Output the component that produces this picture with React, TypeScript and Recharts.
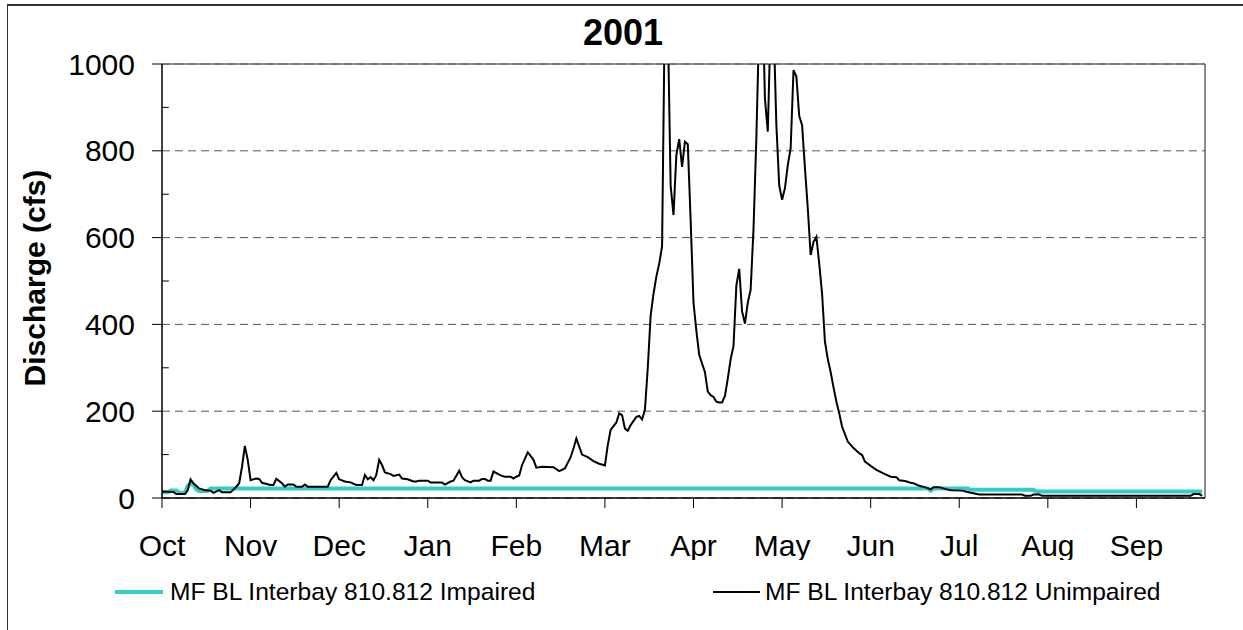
import React from 'react';
import { LineChart, Line, XAxis, YAxis, CartesianGrid, ReferenceLine } from 'recharts';

// water year 2001, day 0 = Oct 1
const MONTHS = ['Oct', 'Nov', 'Dec', 'Jan', 'Feb', 'Mar', 'Apr', 'May', 'Jun', 'Jul', 'Aug', 'Sep'];
const MONTH_TICKS = [0, 31, 62, 93, 124, 155, 186, 217, 248, 279, 310, 341];
const Y_TICKS = [0, 200, 400, 600, 800, 1000];
const Y_MINOR = [100, 300, 500, 700, 900];

const UNIMP_DAYS = [
  0, 4, 5, 8, 9, 10, 11, 13, 15, 17, 18, 20, 21, 24, 26, 27, 28, 29, 30, 31,
  33, 34, 35, 38, 39, 40, 42, 43, 44, 46, 47, 49, 50, 51, 58, 59, 61, 62, 64, 66,
  68, 70, 71, 72, 73, 74, 75, 76, 77, 78, 80, 81, 83, 84, 86, 88, 89, 90, 93, 94,
  98, 99, 101, 102, 104, 105, 106, 108, 109, 111, 112, 113, 114, 115, 116, 118, 119, 120, 122, 123,
  124, 125, 126, 128, 129, 130, 131, 133, 137, 139, 141, 143, 144, 145, 147, 149, 151, 153, 155, 156,
  157, 159, 160, 161, 162, 163, 164, 166, 167, 168, 169, 170, 171, 172, 173, 174, 175, 176, 177, 178,
  179, 180, 181, 182, 183, 184, 185, 186, 187, 188, 189, 190, 191, 192, 193, 194, 195, 196, 197, 198,
  199, 200, 201, 202, 203, 204, 205, 206, 207, 208, 209, 210, 211, 212, 213, 214, 215, 216, 217, 218,
  219, 220, 221, 222, 223, 224, 225, 226, 227, 228, 229, 230, 231, 232, 233, 234, 235, 236, 237, 238,
  240, 242, 244, 245, 246, 248, 250, 253, 255, 257, 258, 260, 262, 263, 265, 267, 269, 270, 272, 274,
  276, 280, 283, 286, 301, 302, 304, 305, 307, 308, 360, 361, 363, 364,
];
const UNIMP_CFS = [
  15, 14, 9, 9, 18, 43, 34, 22, 18, 17, 12, 18, 13, 13, 26, 34, 72, 120, 88, 41,
  45, 44, 35, 30, 30, 44, 34, 26, 31, 31, 26, 26, 31, 26, 26, 41, 58, 43, 38, 36,
  30, 30, 53, 43, 48, 41, 53, 88, 76, 59, 55, 51, 54, 45, 43, 38, 38, 40, 40, 36,
  36, 31, 38, 40, 63, 48, 41, 36, 40, 40, 44, 44, 40, 40, 61, 54, 51, 49, 49, 45,
  49, 52, 76, 105, 97, 88, 70, 72, 71, 62, 68, 94, 114, 137, 100, 94, 85, 79, 75, 122,
  157, 174, 195, 191, 160, 155, 168, 187, 189, 181, 203, 300, 420, 470, 510, 540, 580, 1150, 1100, 720,
  652, 790, 827, 763, 821, 815, 640, 450, 385, 330, 310, 290, 245, 237, 233, 222, 220, 220, 235, 275,
  320, 350, 490, 528, 430, 402, 450, 480, 620, 830, 1100, 1200, 920, 844, 1100, 1100, 860, 720, 687, 714,
  767, 806, 986, 971, 880, 859, 760, 667, 560, 590, 602, 540, 470, 360, 320, 290, 255, 222, 195, 164,
  130, 115, 103, 99, 84, 74, 65, 55, 49, 48, 41, 39, 35, 34, 28, 25, 20, 25, 25, 21,
  18, 17, 12, 8, 8, 5, 5, 8, 8, 5, 5, 9, 9, 5,
];

const IMP_DAYS = [0, 2, 3, 5, 6, 8, 9, 10, 11, 12, 13, 16, 17, 268, 269, 270, 282, 283, 305, 306, 364];
const IMP_CFS = [13, 13, 17, 17, 12, 12, 28, 33, 30, 20, 16, 16, 22, 22, 17, 22, 22, 19, 19, 15, 15];

const unimpaired = UNIMP_DAYS.map((day, i) => ({ day, cfs: UNIMP_CFS[i] }));
const impaired = IMP_DAYS.map((day, i) => ({ day, cfs: IMP_CFS[i] }));

const FONT = '"Liberation Sans", Arial, Helvetica, sans-serif';
const CYAN = '#33CCCC';

const MonthTick = (props: any) => {
  const { x, y, payload } = props;
  const idx = MONTH_TICKS.indexOf(payload.value);
  const id = `mclip-${idx}`;
  return (
    <g>
      <defs>
        <clipPath id={id}>
          <rect x={x - 60} y={y} width={120} height={50} />
        </clipPath>
      </defs>
      <text
        x={x}
        y={y + 46}
        textAnchor="middle"
        fontSize={30}
        fontFamily={FONT}
        fill="#000"
        clipPath={`url(#${id})`}
      >
        {MONTHS[idx]}
      </text>
    </g>
  );
};

export default function App() {
  return (
    <div style={styles.page}>
      <style>{'body{margin:0;}'}</style>
      <div style={styles.frame} />
      <LineChart
        width={1243}
        height={630}
        margin={{ top: 64, right: 38, bottom: 0, left: 0 }}
        style={{ position: 'absolute', left: 0, top: 0 }}
      >
        <CartesianGrid vertical={false} stroke="#555" strokeDasharray="8 5" />
        <XAxis
          dataKey="day"
          type="number"
          domain={[0, 365]}
          ticks={MONTH_TICKS}
          interval={0}
          height={132}
          tickSize={10}
          tickMargin={2}
          axisLine={{ stroke: '#000', strokeWidth: 1.5 }}
          tickLine={{ stroke: '#000' }}
          tick={<MonthTick />}
          allowDataOverflow
        />
        <YAxis
          type="number"
          domain={[0, 1000]}
          ticks={Y_TICKS}
          interval={0}
          width={162}
          tickSize={10}
          tickMargin={17}
          allowDataOverflow
          axisLine={{ stroke: '#000', strokeWidth: 1.5 }}
          tickLine={{ stroke: '#000' }}
          tick={{ fontSize: 30, fill: '#000', fontFamily: FONT }}
        />
        <ReferenceLine y={1000} stroke="#666" strokeWidth={1.5} />
        <ReferenceLine x={365} stroke="#666" strokeWidth={1.5} />
        {Y_MINOR.map((v) => (
          <ReferenceLine
            key={v}
            segment={[
              { x: 0, y: v },
              { x: 2.4, y: v },
            ]}
            stroke="#000"
          />
        ))}
        <Line
          data={impaired}
          dataKey="cfs"
          type="linear"
          stroke={CYAN}
          strokeWidth={4}
          dot={false}
          isAnimationActive={false}
        />
        <Line
          data={unimpaired}
          dataKey="cfs"
          type="linear"
          stroke="#000"
          strokeWidth={2}
          dot={false}
          isAnimationActive={false}
        />
      </LineChart>
      <svg width={1243} height={630} style={styles.overlay}>
        <text x={623} y={45} textAnchor="middle" fontSize={36} fontWeight={700} fontFamily={FONT}>
          2001
        </text>
        <text
          transform="translate(45,278) rotate(-90)"
          textAnchor="middle"
          fontSize={30}
          fontWeight={700}
          fontFamily={FONT}
        >
          Discharge (cfs)
        </text>
        <line x1={115} x2={163} y1={592} y2={592} stroke={CYAN} strokeWidth={4} />
        <text x={170} y={600} fontSize={24.6} fontFamily={FONT}>
          MF BL Interbay 810.812 Impaired
        </text>
        <line x1={713} x2={760} y1={592} y2={592} stroke="#000" strokeWidth={2} />
        <text x={765} y={600} fontSize={24.6} fontFamily={FONT}>
          MF BL Interbay 810.812 Unimpaired
        </text>
      </svg>
    </div>
  );
}

const styles: Record<string, React.CSSProperties> = {
  page: {
    position: 'relative',
    width: 1243,
    height: 630,
    overflow: 'hidden',
    background: '#fff',
  },
  frame: {
    position: 'absolute',
    left: 7,
    top: 4,
    width: 1300,
    height: 700,
    borderTop: '2px solid #333',
    borderLeft: '1px solid #333',
  },
  overlay: {
    position: 'absolute',
    left: 0,
    top: 0,
    pointerEvents: 'none',
  },
};
